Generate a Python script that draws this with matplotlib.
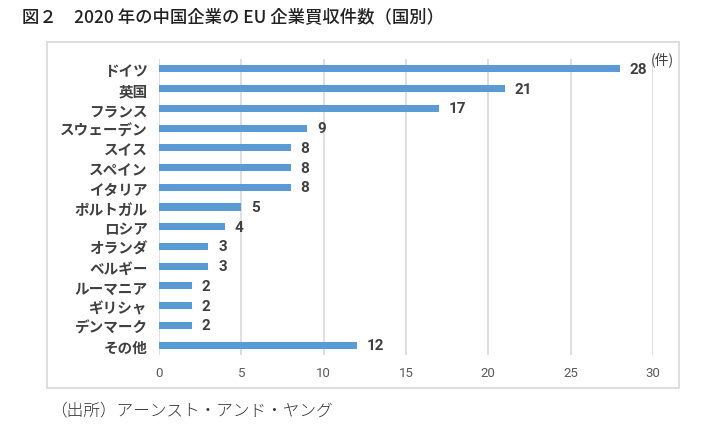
import numpy as np
import matplotlib
matplotlib.use('Agg')
import matplotlib.pyplot as plt
from matplotlib.patches import Rectangle

plt.rcParams['font.family'] = ['Noto Sans CJK JP', 'DejaVu Sans']

countries = ['ドイツ', '英国', 'フランス', 'スウェーデン', 'スイス', 'スペイン', 'イタリア',
             'ポルトガル', 'ロシア', 'オランダ', 'ベルギー', 'ルーマニア', 'ギリシャ',
             'デンマーク', 'その他']
deals = [28, 21, 17, 9, 8, 8, 8, 5, 4, 3, 3, 2, 2, 2, 12]
xticks = [0, 5, 10, 15, 20, 25, 30]

W, H = 714, 431
fig = plt.figure(figsize=(W / 100, H / 100), dpi=100)

# chart frame
fig.patches.append(Rectangle((47 / W, 1 - 389 / H), 632 / W, 346 / H,
                             transform=fig.transFigure, fill=False,
                             edgecolor='#d9d9d9', linewidth=1.2))

ax = fig.add_axes([159 / W, 1 - 356 / H, 494 / W, 296 / H])
y = np.arange(len(countries))
ax.barh(y, deals, height=0.36, color='#5b9bd5', zorder=3)
ax.set_ylim(len(countries) - 0.5, -0.5)
ax.set_xlim(0, 30)
ax.set_xticks(xticks)
ax.set_xticklabels([str(t) for t in xticks], color='#595959', fontsize=9.5,
                   family=['Roboto', 'DejaVu Sans'])
ax.set_yticks(y)
ax.set_yticklabels(countries, fontsize=10.5, fontweight='bold', color='#404040')
ax.tick_params(length=0, pad=8)
ax.tick_params(axis='x', pad=8)
ax.grid(axis='x', color='#d9d9d9', linewidth=1.2, zorder=0)
for s in ax.spines.values():
    s.set_visible(False)

for yi, v in zip(y, deals):
    ax.text(v + 0.6, yi, str(v), va='center', ha='left', fontsize=11,
            fontweight='bold', color='#404040', family=['Roboto', 'DejaVu Sans'])

fig.text(651 / W, 1 - 60 / H, '(件)', fontsize=10, color='#404040', va='center')

fig.text(22 / W, 1 - 18 / H, '図２　2020 年の中国企業の EU 企業買収件数（国別）',
         fontsize=12.5, fontweight='medium', color='#222222', va='center')
fig.text(50 / W, 1 - 411 / H, '（出所）アーンスト・アンド・ヤング',
         fontsize=12, fontweight='light', color='#333333', va='center')

fig.savefig('out.png', dpi=100)
